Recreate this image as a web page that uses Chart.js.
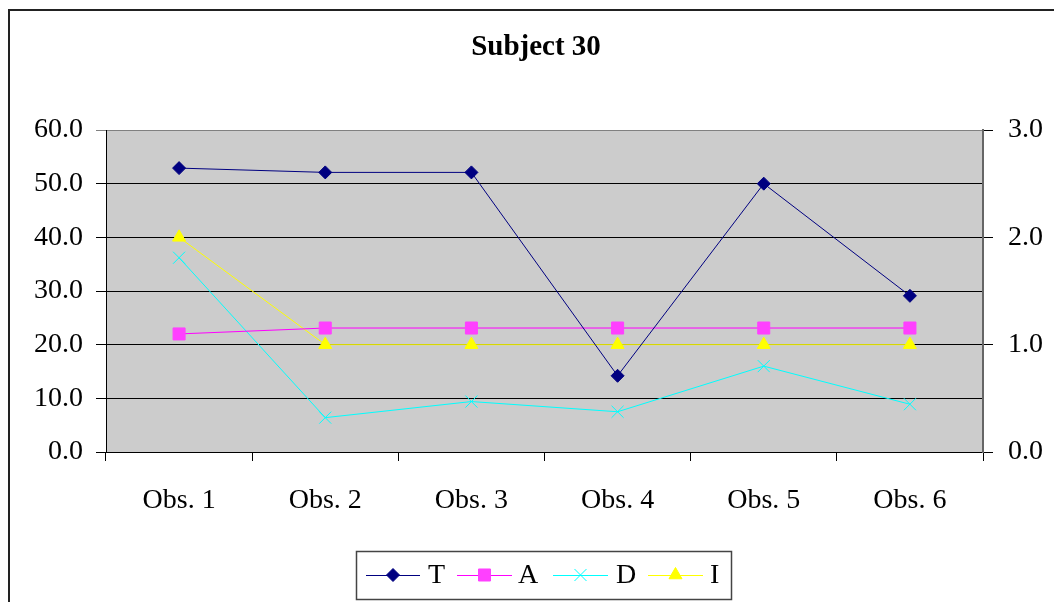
<!DOCTYPE html>
<html>
<head>
<meta charset="utf-8">
<script src="https://cdn.jsdelivr.net/npm/chart.js@4/dist/chart.umd.min.js"></script>
<style>
  html, body { margin: 0; padding: 0; background: #fff; }
  #wrap { width: 1054px; height: 602px; position: relative; }
</style>
</head>
<body>
<div id="wrap"><canvas id="c" width="1054" height="602"></canvas></div>
<script>
const titleText = 'Subject 30';
const categories = ['Obs. 1', 'Obs. 2', 'Obs. 3', 'Obs. 4', 'Obs. 5', 'Obs. 6'];
const seriesNames = ['T', 'A', 'D', 'I'];
const valuesT = [52.9, 52.1, 52.1, 14.2, 50.0, 29.1];
const valuesA = [1.10, 1.155, 1.155, 1.155, 1.155, 1.155];
const valuesD = [1.81, 0.32, 0.47, 0.375, 0.80, 0.445];
const valuesI = [2.0, 1.0, 1.0, 1.0, 1.0, 1.0];
const leftTicks = [0, 10, 20, 30, 40, 50, 60];
const rightTicks = [0, 1, 2, 3];

const SERIF = "'Liberation Serif', 'Times New Roman', serif";

function drawMarker(ctx, style, x, y, r, fill, stroke) {
  ctx.save();
  ctx.fillStyle = fill; ctx.strokeStyle = stroke; ctx.lineWidth = 1;
  ctx.beginPath();
  if (style === 'rectRot') {
    ctx.moveTo(x, y - r); ctx.lineTo(x + r, y); ctx.lineTo(x, y + r); ctx.lineTo(x - r, y); ctx.closePath();
    ctx.fill(); ctx.stroke();
  } else if (style === 'rect') {
    const s = r * Math.SQRT1_2;
    ctx.rect(x - s, y - s, 2 * s, 2 * s); ctx.fill(); ctx.stroke();
  } else if (style === 'triangle') {
    ctx.moveTo(x, y - r);
    ctx.lineTo(x + r * Math.sin(Math.PI * 2 / 3), y - r * Math.cos(Math.PI * 2 / 3));
    ctx.lineTo(x - r * Math.sin(Math.PI * 2 / 3), y - r * Math.cos(Math.PI * 2 / 3));
    ctx.closePath(); ctx.fill(); ctx.stroke();
  } else if (style === 'crossRot') {
    const s = r * Math.SQRT1_2;
    ctx.moveTo(x - s, y - s); ctx.lineTo(x + s, y + s);
    ctx.moveTo(x + s, y - s); ctx.lineTo(x - s, y + s);
    ctx.stroke();
  }
  ctx.restore();
}

const decor = {
  id: 'decor',
  beforeDraw(chart) {
    const { ctx, chartArea: a } = chart;
    ctx.save();
    ctx.fillStyle = '#fff';
    ctx.fillRect(0, 0, chart.width, chart.height);
    ctx.fillStyle = '#CCCCCC';
    ctx.fillRect(a.left, a.top, a.right - a.left, a.bottom - a.top);
    ctx.restore();
  },
  afterDraw(chart) {
    const { ctx } = chart;
    ctx.save();
    // outer frame
    ctx.strokeStyle = '#222';
    ctx.lineWidth = 2;
    ctx.strokeRect(9, 10, 3000, 3000);
    // title
    ctx.fillStyle = '#000';
    ctx.font = 'bold 29px ' + SERIF;
    ctx.textAlign = 'center';
    ctx.textBaseline = 'middle';
    ctx.fillText(titleText, 536, 48);
    // legend
    ctx.strokeStyle = '#444';
    ctx.lineWidth = 1.5;
    ctx.strokeRect(356.5, 551.5, 375, 48);
    const items = [
      { x0: 366, x1: 420, tx: 428 },
      { x0: 457, x1: 512, tx: 518 },
      { x0: 553, x1: 608, tx: 616 },
      { x0: 648, x1: 703, tx: 710 }
    ];
    const ly = 575;
    chart.data.datasets.forEach((ds, i) => {
      const it = items[i];
      ctx.strokeStyle = ds.borderColor;
      ctx.lineWidth = 1;
      ctx.beginPath(); ctx.moveTo(it.x0, ly + 0.5); ctx.lineTo(it.x1, ly + 0.5); ctx.stroke();
      drawMarker(ctx, ds.pointStyle, (it.x0 + it.x1) / 2, ly, ds.pointRadius, ds.pointBackgroundColor, ds.pointBorderColor);
      ctx.fillStyle = '#000';
      ctx.font = '28px ' + SERIF;
      ctx.textAlign = 'left';
      ctx.textBaseline = 'middle';
      ctx.fillText(ds.label, it.tx, ly + 1);
    });
    ctx.restore();
  }
};

new Chart(document.getElementById('c'), {
  type: 'line',
  data: {
    labels: categories,
    datasets: [
      { label: seriesNames[0], data: valuesT, yAxisID: 'y', borderColor: '#000080', borderWidth: 1,
        pointStyle: 'rectRot', pointRadius: 6.5, pointBackgroundColor: '#000080', pointBorderColor: '#000080', pointBorderWidth: 1, tension: 0 },
      { label: seriesNames[1], data: valuesA, yAxisID: 'y2', borderColor: '#FF00FF', borderWidth: 1,
        pointStyle: 'rect', pointRadius: 8.5, pointBackgroundColor: '#FF40FF', pointBorderColor: '#FF40FF', pointBorderWidth: 1, tension: 0 },
      { label: seriesNames[2], data: valuesD, yAxisID: 'y2', borderColor: '#00FFFF', borderWidth: 1,
        pointStyle: 'crossRot', pointRadius: 8.5, pointBackgroundColor: '#00FFFF', pointBorderColor: '#00FFFF', pointBorderWidth: 1, tension: 0 },
      { label: seriesNames[3], data: valuesI, yAxisID: 'y2', borderColor: '#FFFF00', borderWidth: 1,
        pointStyle: 'triangle', pointRadius: 7.5, pointBackgroundColor: '#FFFF00', pointBorderColor: '#FFFF00', pointBorderWidth: 1, tension: 0 }
    ]
  },
  options: {
    responsive: false,
    animation: false,
    devicePixelRatio: 1,
    layout: { padding: { top: 130, left: 0, right: 0, bottom: 0 } },
    plugins: { legend: { display: false }, title: { display: false }, tooltip: { enabled: false } },
    scales: {
      x: {
        type: 'category',
        offset: true,
        grid: { drawOnChartArea: false, drawTicks: true, tickLength: 9, color: '#000', offset: true },
        border: { color: '#000', width: 1 },
        ticks: { font: { family: SERIF, size: 28 }, color: '#000', padding: 23, autoSkip: false, maxRotation: 0 },
        afterFit(s) { s.height = 150; }
      },
      y: {
        position: 'left',
        min: 0, max: 60,
        afterBuildTicks(s) { s.ticks = leftTicks.map(v => ({ value: v })); },
        grid: { color: c => (c.tick && c.tick.value === 60 ? '#808080' : '#000'), tickLength: 10, lineWidth: 1 },
        border: { color: '#000', width: 1 },
        ticks: { font: { family: SERIF, size: 28 }, color: '#000', padding: 13, callback: v => Number(v).toFixed(1) },
        afterFit(s) { s.width = 106; }
      },
      y2: {
        position: 'right',
        min: 0, max: 3,
        afterBuildTicks(s) { s.ticks = rightTicks.map(v => ({ value: v })); },
        grid: { drawOnChartArea: false, tickLength: 10, color: '#000' },
        border: { color: '#666', width: 2 },
        ticks: { font: { family: SERIF, size: 28 }, color: '#000', padding: 15, callback: v => Number(v).toFixed(1) },
        afterFit(s) { s.width = 71; }
      }
    }
  },
  plugins: [decor]
});
</script>
</body>
</html>
